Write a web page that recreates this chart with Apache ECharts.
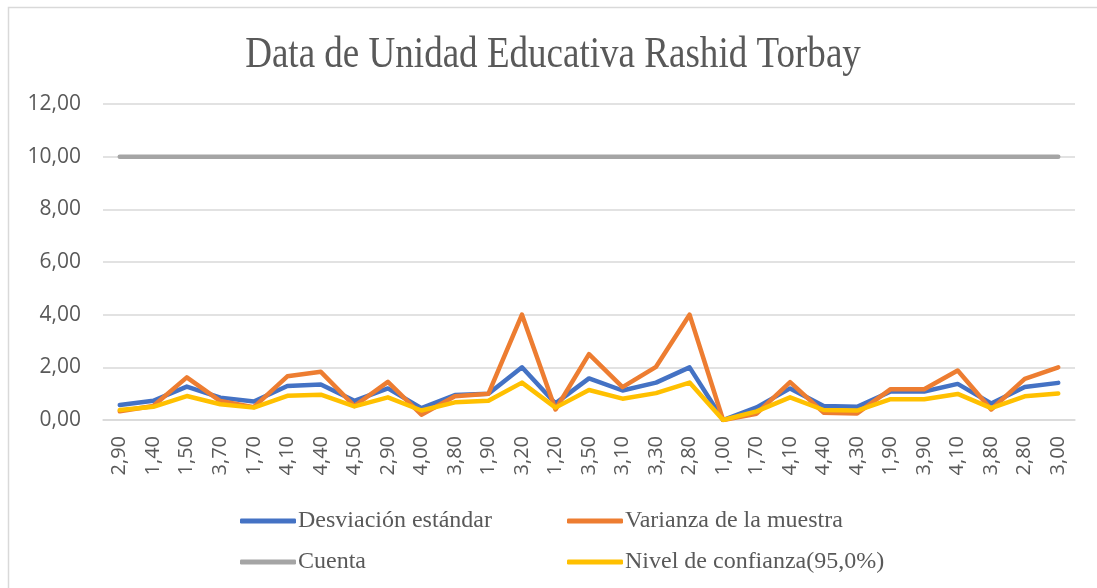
<!DOCTYPE html>
<html>
<head>
<meta charset="utf-8">
<script src="https://cdn.jsdelivr.net/npm/echarts@6/dist/echarts.min.js"></script>
<style>
  html, body { margin: 0; padding: 0; background: #fff; }
  #chart { width: 1097px; height: 588px; }
</style>
</head>
<body>
<div id="chart"></div>
<script>
var categories = ['2,90', '1,40', '1,50', '3,70', '1,70', '4,10', '4,40', '4,50', '2,90', '4,00',
  '3,80', '1,90', '3,20', '1,20', '3,50', '3,10', '3,30', '2,80', '1,00', '1,70',
  '4,10', '4,40', '4,30', '1,90', '3,90', '4,10', '3,80', '2,80', '3,00'];

var desviacion = [0.57, 0.73, 1.27, 0.85, 0.70, 1.29, 1.35, 0.73, 1.20, 0.45,
  0.95, 1.00, 2.00, 0.63, 1.58, 1.12, 1.42, 2.00, 0.00, 0.48,
  1.20, 0.53, 0.50, 1.08, 1.08, 1.37, 0.63, 1.25, 1.41];

var varianza = [0.33, 0.53, 1.62, 0.72, 0.49, 1.66, 1.83, 0.53, 1.45, 0.20,
  0.90, 1.00, 4.00, 0.40, 2.50, 1.25, 2.02, 4.00, 0.00, 0.24,
  1.44, 0.28, 0.25, 1.17, 1.17, 1.88, 0.40, 1.56, 2.00];

var cuenta = [10, 10, 10, 10, 10, 10, 10, 10, 10, 10,
  10, 10, 10, 10, 10, 10, 10, 10, 10, 10,
  10, 10, 10, 10, 10, 10, 10, 10, 10];

var confianza = [0.38, 0.50, 0.91, 0.60, 0.47, 0.92, 0.96, 0.52, 0.86, 0.36,
  0.67, 0.73, 1.42, 0.47, 1.14, 0.81, 1.02, 1.42, 0.00, 0.33,
  0.86, 0.38, 0.36, 0.79, 0.79, 0.99, 0.45, 0.90, 1.01];

var names = ['Desviación estándar', 'Varianza de la muestra', 'Cuenta', 'Nivel de confianza(95,0%)'];
var colors = ['#4472C4', '#ED7D31', '#A5A5A5', '#FFC000'];
var values = [desviacion, varianza, cuenta, confianza];

var chart = echarts.init(document.getElementById('chart'));

var legendBase = {
  orient: 'vertical',
  top: 504,
  itemGap: 17,
  itemWidth: 56,
  itemHeight: 5,
  icon: 'roundRect',
  textStyle: { fontFamily: 'Liberation Serif', fontSize: 24, color: '#595959', padding: [0, 0, 0, -3] }
};

chart.setOption({
  animation: false,
  color: colors,
  graphic: [{
    type: 'rect',
    shape: { x: 8.5, y: 7.5, width: 1100, height: 600 },
    style: { fill: 'none', stroke: '#D9D9D9', lineWidth: 1.5 },
    silent: true
  }, {
    // title, squeezed a little like the original
    type: 'text',
    x: 553,
    y: 55,
    scaleX: 0.842,
    style: {
      text: 'Data de Unidad Educativa Rashid Torbay',
      fontFamily: 'Liberation Serif',
      fontSize: 44,
      fill: '#595959',
      align: 'center',
      verticalAlign: 'middle'
    }
  }],
  legend: [
    Object.assign({ left: 235, data: [names[0], names[2]] }, legendBase),
    Object.assign({ left: 562, data: [names[1], names[3]] }, legendBase)
  ],
  grid: { left: 103, right: 22, top: 104, bottom: 168 },
  xAxis: {
    type: 'category',
    data: categories,
    boundaryGap: true,
    axisLine: { lineStyle: { color: '#D9D9D9', width: 1.5 } },
    axisTick: { show: false },
    axisLabel: {
      rotate: 90,
      margin: 16,
      interval: 0,
      fontFamily: 'Open Sans',
      fontSize: 20,
      color: '#595959'
    }
  },
  yAxis: {
    type: 'value',
    min: 0,
    max: 12,
    interval: 2,
    axisLine: { show: false },
    axisTick: { show: false },
    splitLine: { lineStyle: { color: '#D9D9D9', width: 1.5 } },
    axisLabel: {
      margin: 22,
      fontFamily: 'Open Sans',
      fontSize: 21,
      color: '#595959',
      formatter: function (v) { return v.toFixed(2).replace('.', ','); }
    }
  },
  series: names.map(function (n, i) {
    return {
      name: n,
      type: 'line',
      data: values[i],
      showSymbol: false,
      symbol: 'none',
      lineStyle: { width: 4.5, color: colors[i], cap: 'round', join: 'round' },
      itemStyle: { color: colors[i] }
    };
  })
});
</script>
</body>
</html>
